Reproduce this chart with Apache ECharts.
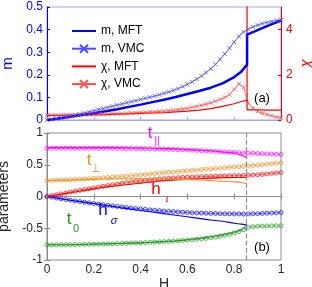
<!DOCTYPE html>
<html><head><meta charset="utf-8">
<script src="https://cdn.jsdelivr.net/npm/echarts@6/dist/echarts.min.js"></script>
<style>html,body{margin:0;padding:0;background:#fff}#c{width:312px;height:287px}</style>
</head><body><div id="c"></div>
<script>
// ---------- data ----------
const H_C = 0.855;            // transition field
const CHI_SPIKE = 100;        // MFT susceptibility divergence (off scale)
const H_VMC = [0,0.02,0.04,0.06,0.08,0.1,0.12,0.14,0.16,0.18,0.2,0.22,0.24,0.26,0.28,0.3,0.32,0.34,0.36,0.38,0.4,0.42,0.44,0.46,0.48,0.5,0.52,0.54,0.56,0.58,0.6,0.62,0.64,0.66,0.68,0.7,0.72,0.74,0.76,0.78,0.8,0.82,0.84,0.86,0.88,0.9,0.92,0.94,0.96,0.98,1];
const H_MFT_LOW = [0,0.05,0.1,0.15,0.2,0.25,0.3,0.35,0.4,0.45,0.5,0.55,0.6,0.65,0.7,0.75,0.8,0.83,0.855];
const H_MFT_HIGH = [0.855,0.9,0.95,1];

const m_VMC = [0,.003,.006,.01,.014,.018,.022,.026,.031,.036,.041,.046,.051,.056,.061,.066,.071,.076,.081,.086,.091,.096,.101,.106,.112,.118,.124,.131,.139,.148,.158,.169,.181,.195,.21,.227,.246,.268,.292,.318,.345,.37,.389,.402,.412,.42,.427,.432,.436,.44,.443];
const chi_VMC = [.22,.22,.22,.22,.23,.23,.23,.24,.24,.25,.25,.26,.26,.27,.28,.28,.29,.3,.31,.32,.33,.34,.35,.36,.38,.39,.41,.43,.46,.49,.52,.56,.6,.65,.7,.76,.83,.91,1.0,1.12,1.35,1.6,1.45,.75,.52,.38,.3,.24,.18,.13,.09];
const m_MFT_low = [0,.007,.014,.022,.03,.039,.048,.058,.068,.079,.09,.102,.115,.128,.143,.162,.19,.214,.245];
const m_MFT_high = [.378,.398,.42,.44];
const chi_MFT_low = [.2,.2,.21,.22,.23,.24,.26,.27,.29,.31,.33,.36,.39,.44,.5,.6,.72,.82,.87];
const chi_MFT_high = [.45,.45,.44,.44];

const tpar_VMC = [.76,.76,.76,.76,.76,.76,.76,.76,.76,.76,.76,.76,.76,.76,.76,.758,.757,.756,.755,.754,.753,.752,.751,.75,.748,.746,.744,.741,.738,.735,.732,.729,.726,.722,.718,.714,.71,.706,.702,.698,.694,.69,.686,.683,.68,.677,.674,.671,.668,.665,.662];
const tperp_VMC = [.25,.253,.256,.259,.262,.265,.269,.273,.277,.281,.285,.29,.295,.3,.305,.31,.316,.322,.328,.334,.34,.347,.354,.361,.368,.375,.381,.387,.393,.399,.405,.411,.417,.423,.429,.435,.441,.447,.453,.459,.465,.471,.477,.483,.489,.495,.502,.509,.516,.523,.53];
const htau_VMC = [0,.014,.028,.042,.056,.07,.084,.097,.11,.123,.136,.148,.16,.172,.184,.196,.207,.217,.227,.237,.246,.254,.262,.269,.276,.282,.287,.292,.296,.3,.304,.307,.31,.313,.316,.318,.32,.322,.324,.326,.328,.33,.332,.334,.338,.343,.348,.355,.362,.37,.378];
const hsig_VMC = [0,-.012,-.024,-.036,-.047,-.058,-.069,-.08,-.09,-.1,-.11,-.12,-.13,-.139,-.148,-.157,-.165,-.173,-.181,-.189,-.196,-.203,-.21,-.216,-.222,-.228,-.233,-.238,-.243,-.247,-.251,-.255,-.258,-.261,-.264,-.266,-.268,-.27,-.272,-.273,-.274,-.275,-.275,-.274,-.272,-.27,-.267,-.264,-.26,-.256,-.252];
const t0_VMC = [-.76,-.76,-.76,-.76,-.759,-.758,-.757,-.756,-.755,-.754,-.752,-.75,-.748,-.746,-.744,-.742,-.74,-.737,-.734,-.731,-.728,-.725,-.722,-.718,-.714,-.71,-.706,-.702,-.697,-.692,-.687,-.681,-.675,-.668,-.66,-.651,-.64,-.627,-.612,-.595,-.575,-.552,-.525,-.485,-.474,-.469,-.466,-.464,-.462,-.461,-.46];

const tpar_MFT = [.77,.77,.77,.77,.77,.77,.77,.768,.765,.76,.755,.75,.74,.73,.72,.7,.68,.65,.61];
const tperp_MFT = [.25,.255,.26,.265,.27,.275,.28,.28,.28,.28,.28,.275,.27,.26,.25,.24,.23,.22,.2];
const htau_MFT = [0,.03,.06,.09,.12,.15,.17,.19,.21,.23,.25,.26,.27,.28,.29,.295,.3,.3,.3];
const hsig_MFT = [0,-.03,-.06,-.085,-.11,-.14,-.17,-.195,-.22,-.245,-.27,-.295,-.32,-.345,-.37,-.39,-.42,-.435,-.45];
const t0_MFT = [-.76,-.76,-.76,-.755,-.75,-.745,-.74,-.735,-.73,-.72,-.71,-.7,-.68,-.66,-.63,-.6,-.56,-.52,-.45];

// ---------- helpers ----------
const zip = (xs, ys) => xs.map((x, i) => [x, ys[i]]);
const FONT = '"Liberation Sans", Arial, sans-serif';
const BLUE = '#0000ff', LBLUE = '#4d4dff', RED = '#ff0000', LRED = '#ff4d4d';
const MAG = '#ff00ff', ORA = '#ee9020', GRN = '#229922';
const XSYM = 'path://M0,0L10,10M0,10L10,0';

const chiMFT = zip(H_MFT_LOW, chi_MFT_low).concat([[H_C, CHI_SPIKE]], zip(H_MFT_HIGH, chi_MFT_high));
const mMFT = zip(H_MFT_LOW, m_MFT_low).concat(zip(H_MFT_HIGH, m_MFT_high));

function vmcBottom(name, vals, color) {
  return {name, type:'line', xAxisIndex:1, yAxisIndex:2, data: zip(H_VMC, vals),
    symbol:'circle', symbolSize:4, showSymbol:true,
    lineStyle:{color, width:0.6}, itemStyle:{color:'rgba(0,0,0,0)', borderColor:color, borderWidth:0.7},
    z:2, animation:false};
}
function mftBottom(name, vals, color) {
  return {name, type:'line', xAxisIndex:1, yAxisIndex:2, data: zip(H_MFT_LOW, vals),
    symbol:'none', smooth:0.3, lineStyle:{color, width:1.1}, z:3, animation:false};
}

const axisLab = (color) => ({color, fontSize:12, fontFamily:FONT});
const HIDE = {color:'rgba(0,0,0,0)', borderWidth:0, borderColor:'rgba(0,0,0,0)'};

const option = {
  backgroundColor:'#fff',
  animation:false,
  grid:[
    {left:47, top:7, width:234, height:113, containLabel:false, outerBoundsMode:'none', show:true, borderColor:'#a3a3ff', borderWidth:1, backgroundColor:'transparent'},
    {left:47, top:133, width:234, height:127, containLabel:false, outerBoundsMode:'none', show:true, borderColor:'#8c8c8c', borderWidth:1, backgroundColor:'transparent'}
  ],
  xAxis:[
    {gridIndex:0, type:'value', min:0, max:1, interval:0.2, axisLabel:{show:false},
     axisLine:{lineStyle:{color:'#a3a3ff'}}, axisTick:{inside:true, length:3, lineStyle:{color:'#a3a3ff'}}, splitLine:{show:false}},
    {gridIndex:1, type:'value', min:0, max:1, interval:0.2, axisLabel:{...axisLab('#262626'), margin:4},
     axisLine:{lineStyle:{color:'#8c8c8c'}}, axisTick:{inside:true, length:3, lineStyle:{color:'#8c8c8c'}}, splitLine:{show:false},
     name:'H', nameLocation:'middle', nameGap:16, nameTextStyle:{color:'#262626', fontSize:14, fontFamily:FONT}},
    {gridIndex:1, type:'value', position:'top', min:0, max:1, interval:0.2, axisLabel:{show:false},
     axisLine:{lineStyle:{color:'#8c8c8c'}}, axisTick:{inside:true, length:3, lineStyle:{color:'#8c8c8c'}}, splitLine:{show:false}}
  ],
  yAxis:[
    {gridIndex:0, type:'value', min:0, max:0.5, interval:0.1, axisLabel:{...axisLab(BLUE), margin:4},
     axisLine:{show:true, lineStyle:{color:BLUE}}, axisTick:{inside:true, length:3, lineStyle:{color:BLUE}}, splitLine:{show:false},
     name:'m', nameLocation:'middle', nameGap:31, nameTextStyle:{color:BLUE, fontSize:15, fontFamily:FONT}},
    {gridIndex:0, type:'value', position:'right', min:0, max:5, interval:2, axisLabel:{...axisLab(RED), margin:5, showMaxLabel:false},
     axisLine:{show:true, lineStyle:{color:RED}}, axisTick:{inside:true, length:3, lineStyle:{color:RED}}, splitLine:{show:false},
     name:'χ', nameLocation:'middle', nameGap:17, nameRotate:90, nameMoveOverlap:false,
     nameTextStyle:{color:RED, fontSize:15, fontFamily:FONT, fontStyle:'italic'}},
    {gridIndex:1, type:'value', min:-1, max:1, interval:0.5, axisLabel:{...axisLab('#262626'), margin:4},
     axisLine:{show:true, lineStyle:{color:'#8c8c8c'}}, axisTick:{inside:true, length:3, lineStyle:{color:'#8c8c8c'}}, splitLine:{show:false},
     name:'parameters', nameLocation:'middle', nameGap:28, nameTextStyle:{color:'#262626', fontSize:14, fontFamily:FONT}},
    {gridIndex:1, type:'value', position:'right', min:-1, max:1, interval:0.5, axisLabel:{show:false},
     axisLine:{show:true, lineStyle:{color:'#8c8c8c'}}, axisTick:{inside:true, length:3, lineStyle:{color:'#8c8c8c'}}, splitLine:{show:false}}
  ],
  legend:{
    orient:'vertical', left:66, top:20, itemWidth:24, itemHeight:10, itemGap:5.7,
    textStyle:{fontSize:12, fontFamily:FONT, color:'#000'},
    data:[
      {name:'m, MFT', itemStyle:HIDE},
      {name:'m, VMC'},
      {name:'χ, MFT', itemStyle:HIDE},
      {name:'χ, VMC'}
    ]
  },
  series:[
    {name:'χ, VMC', type:'line', xAxisIndex:0, yAxisIndex:1, data:zip(H_VMC, chi_VMC),
     symbol:XSYM, symbolSize:4, lineStyle:{color:LRED, width:0.8}, itemStyle:{color:'rgba(0,0,0,0)', borderColor:LRED, borderWidth:0.8}},
    {name:'χ, MFT', type:'line', xAxisIndex:0, yAxisIndex:1, data:chiMFT, clip:true,
     symbol:'none', lineStyle:{color:RED, width:1.2}, itemStyle:{color:RED}},
    {name:'m, VMC', type:'line', xAxisIndex:0, yAxisIndex:0, data:zip(H_VMC, m_VMC),
     symbol:XSYM, symbolSize:4, lineStyle:{color:LBLUE, width:0.8}, itemStyle:{color:'rgba(0,0,0,0)', borderColor:LBLUE, borderWidth:0.8}},
    {name:'m, MFT', type:'line', xAxisIndex:0, yAxisIndex:0, data:mMFT,
     symbol:'none', lineStyle:{color:BLUE, width:2.5}, itemStyle:{color:BLUE}},

    vmcBottom('t0 VMC', t0_VMC, GRN),
    vmcBottom('hs VMC', hsig_VMC, BLUE),
    vmcBottom('ht VMC', htau_VMC, RED),
    vmcBottom('tperp VMC', tperp_VMC, ORA),
    vmcBottom('tpar VMC', tpar_VMC, MAG),
    mftBottom('t0 MFT', t0_MFT, GRN),
    mftBottom('hs MFT', hsig_MFT, BLUE),
    mftBottom('ht MFT', htau_MFT, RED),
    mftBottom('tperp MFT', tperp_MFT, ORA),
    Object.assign(mftBottom('tpar MFT', tpar_MFT, MAG), {
      markLine:{silent:true, symbol:['none','none'], label:{show:false},
        lineStyle:{type:'dashed', color:'#8c8c8c', width:1.2}, data:[{xAxis:H_C}]}
    })
  ],
  graphic:[
    {type:'text', x:262, y:98, style:{text:'(a)', fill:'#000', font:'13px '+FONT, align:'center', verticalAlign:'middle'}},
    {type:'text', x:262, y:247, style:{text:'(b)', fill:'#000', font:'13px '+FONT, align:'center', verticalAlign:'middle'}},
    {type:'text', x:150, y:133, style:{text:'t', fill:MAG, font:'17px '+FONT, align:'center', verticalAlign:'middle'}},
    {type:'text', x:157, y:141, style:{text:'||', fill:MAG, font:'10px '+FONT, align:'center', verticalAlign:'middle'}},
    {type:'text', x:89, y:160, style:{text:'t', fill:ORA, font:'17px '+FONT, align:'center', verticalAlign:'middle'}},
    {type:'text', x:96, y:169, style:{text:'⊥', fill:ORA, font:'11px '+FONT, align:'center', verticalAlign:'middle'}},
    {type:'text', x:156, y:189, style:{text:'h', fill:RED, font:'17px '+FONT, align:'center', verticalAlign:'middle'}},
    {type:'text', x:167, y:199, style:{text:'τ', fill:RED, font:'italic 11px '+FONT, align:'center', verticalAlign:'middle'}},
    {type:'text', x:103, y:210, style:{text:'h', fill:BLUE, font:'17px '+FONT, align:'center', verticalAlign:'middle'}},
    {type:'text', x:114, y:221, style:{text:'σ', fill:BLUE, font:'italic 11px '+FONT, align:'center', verticalAlign:'middle'}},
    {type:'text', x:69, y:219, style:{text:'t', fill:GRN, font:'17px '+FONT, align:'center', verticalAlign:'middle'}},
    {type:'text', x:76, y:229, style:{text:'0', fill:GRN, font:'11px '+FONT, align:'center', verticalAlign:'middle'}}
  ]
};
const chart = echarts.init(document.getElementById('c'));
chart.setOption(option);
</script>
</body></html>
